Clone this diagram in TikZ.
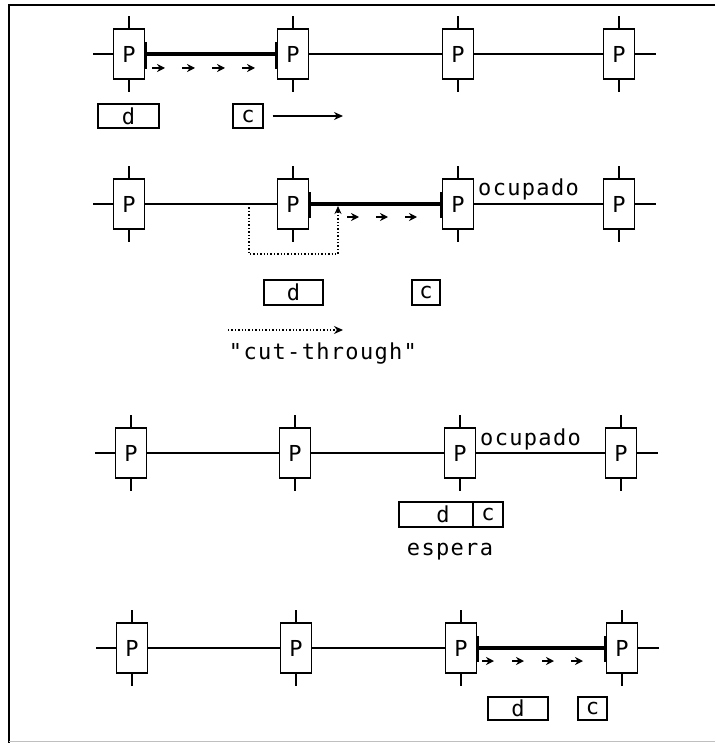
\documentclass[tikz,border=0pt]{standalone}
\usepackage{fontspec}
\newfontfamily\plotfont[LetterSpace=6]{DejaVu Sans Mono}
\usetikzlibrary{arrows.meta}
\begin{document}
\begin{tikzpicture}[x=1pt,y=-1pt,
  wire/.style={line width=1.4pt},
  busy/.style={line width=3.3pt},
  router/.style={draw,line width=1.4pt,minimum width=31pt,minimum height=50pt,inner sep=0pt,font=\plotfont\fontsize{22}{22}\selectfont},
  tag/.style={draw,line width=1.4pt,minimum height=24pt,inner sep=0pt,font=\plotfont\fontsize{22}{22}\selectfont},
  word/.style={inner sep=0pt,font=\plotfont\fontsize{22}{22}\selectfont},
  hop/.style={-{Stealth[length=8pt,width=8pt]},line width=1.6pt}]
\useasboundingbox (0,0) rectangle (715,743);
\draw[wire] (715,5) -- (9,5) -- (9,743);
\draw[line width=0.8pt,black!25] (9,741) -- (715,741);

\foreach \r/\y/\s in {a/54/0,b/204/0,e/453/2,f/648/3}{
  \foreach \i/\x in {1/129,2/293,3/458,4/619}{
    \node[router] (\r\i) at (\x+\s,\y) {P};
    \draw[wire] (\r\i.north) -- ++(0,-12);
    \draw[wire] (\r\i.south) -- ++(0,12);
  }
  \coordinate (\r0) at (93+\s,\y);
  \coordinate (\r5) at (656+\s,\y);
  \draw[wire] (\r0) -- (\r1) -- (\r2) -- (\r3) -- (\r4) -- (\r5);
}

\draw[busy] (a1.east) -- (a2.west);
\draw[busy] ([yshift=12pt]a1.east) -- ([yshift=-15pt]a1.east);
\draw[busy] ([yshift=12pt]a2.west) -- ([yshift=-15pt]a2.west);
\foreach \x in {152,182,212,242}
  \draw[hop] (\x,68) -- ++(13,0);
\node[tag,minimum width=61pt] (d1) at (128.5,116) {d};
\node[tag,minimum width=30pt] (c1) at (248,116) {c};
\coordinate (c1end) at (343,116);
\draw[wire,-{Stealth[length=9pt,width=8pt]}] ([xshift=9pt]c1.east) -- (c1end);

\draw[busy] (b2.east) -- (b3.west);
\draw[busy] ([yshift=12pt]b2.east) -- ([yshift=-14pt]b2.east);
\draw[busy] ([yshift=12pt]b3.west) -- ([yshift=-14pt]b3.west);
\coordinate (cutin) at (249,204);
\coordinate (cutout) at (338,206);
\draw[line width=1.4pt,dotted,-{Stealth[length=8pt,width=7pt]}] (cutin) -- ++(0,50) -| (cutout);
\foreach \x in {347,376,405}
  \draw[hop] (\x,217) -- ++(12,0);
\node[word,anchor=base west] (busyb) at (478,196) {ocupado};
\node[tag,minimum width=59pt,minimum height=25pt] (d2) at (293.5,292.5) {d};
\node[tag,minimum width=28pt,minimum height=25pt] (c2) at (426,292.5) {c};
\coordinate (ctfrom) at (228,330);
\coordinate (ctto) at (343,330);
\draw[line width=1.4pt,dotted,-{Stealth[length=9pt,width=8pt]}] (ctfrom) -- (ctto);
\node[word] (ctlabel) at (323,354) {"cut-through"};

\draw[line width=2.4pt] (e4.east) -- (e5);
\node[word,anchor=base west] (busye) at (480,445) {ocupado};
\node[tag,minimum width=74pt,minimum height=25pt] (d3) at (436,514.5) {\hspace*{14pt}d};
\node[tag,minimum width=30pt,minimum height=25pt] (c3) at (488,514.5) {c};
\node[word] (wait) at (450,552) {espera};

\draw[busy] (f3.east) -- (f4.west);
\draw[busy] ([yshift=12pt]f3.east) -- ([yshift=-14pt]f3.east);
\draw[busy] ([yshift=12pt]f4.west) -- ([yshift=-14pt]f4.west);
\foreach \x in {482,512,542,571}
  \draw[hop] (\x,661) -- ++(12,0);
\node[tag,minimum width=60pt,minimum height=23pt] (d4) at (518,708.5) {d};
\node[tag,minimum width=29pt,minimum height=23pt] (c4) at (592.5,708.5) {c};
\end{tikzpicture}
\end{document}
